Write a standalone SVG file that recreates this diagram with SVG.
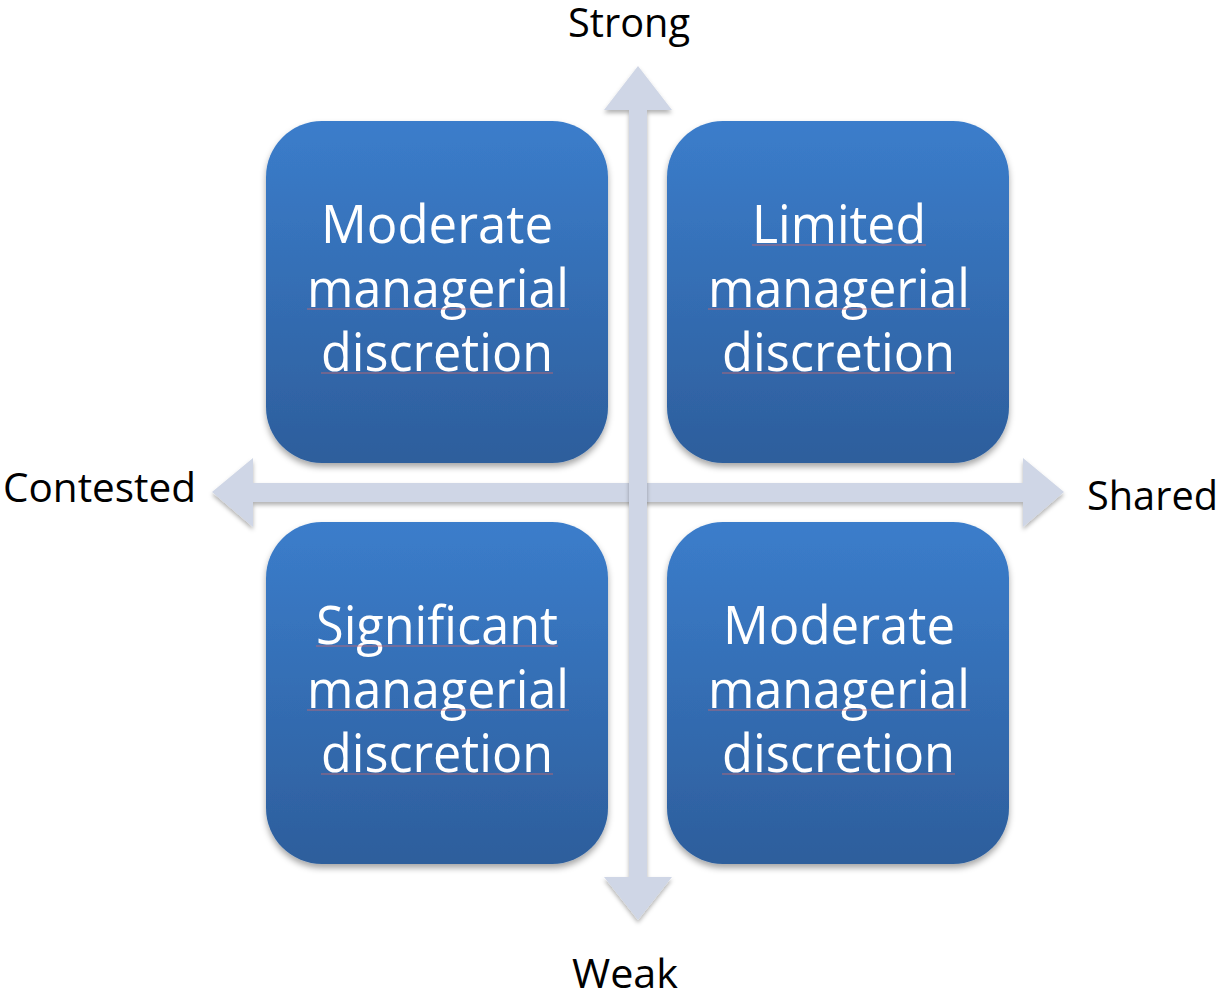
<svg xmlns="http://www.w3.org/2000/svg" width="1219" height="994" viewBox="0 0 1219 994">
<defs>
<linearGradient id="boxGrad" x1="0" y1="0" x2="0" y2="1">
<stop offset="0" stop-color="#3b7dcb"/>
<stop offset="1" stop-color="#2d5e9c"/>
</linearGradient>
<filter id="shadow" x="-10%" y="-10%" width="120%" height="125%">
<feDropShadow dx="0" dy="4" stdDeviation="3" flood-color="#000" flood-opacity="0.35"/>
</filter>
<filter id="ashadow" x="-10%" y="-10%" width="120%" height="120%">
<feDropShadow dx="0" dy="3" stdDeviation="2" flood-color="#000" flood-opacity="0.3"/>
</filter>
</defs>
<style>
.box{fill:url(#boxGrad);filter:url(#shadow);}
.t{font-family:"Open Sans","Liberation Sans",sans-serif;font-size:53px;fill:#ffffff;}
.lbl{font-family:"Open Sans","Liberation Sans",sans-serif;font-size:40px;fill:#000000;}
.arrow{fill:#cfd6e6;filter:url(#ashadow);}
.sq{stroke:#e06666;stroke-width:1.2;stroke-opacity:0.7;fill:none;}
</style>
<rect width="1219" height="994" fill="#ffffff"/>
<g id="connectors">
<polygon class="arrow" points="212,492 253,458 253,483 1023,483 1023,458 1064,492 1023,527 1023,502 253,502 253,527"/>
<polygon class="arrow" points="638,66 672,110 647,110 647,877 672,877 638,920 604,877 629,877 629,110 604,110"/>
</g>
<g id="box-tl">
<rect class="box" x="266" y="121" width="342" height="342" rx="56"/>
<text class="t" x="321" y="243" textLength="232" lengthAdjust="spacingAndGlyphs">Moderate</text>
<text class="t" x="307" y="307" textLength="262" lengthAdjust="spacingAndGlyphs">managerial</text>
<text class="t" x="321" y="371" textLength="232" lengthAdjust="spacingAndGlyphs">discretion</text>
<line class="sq" x1="307" y1="309" x2="569" y2="309"/>
<line class="sq" x1="321" y1="373" x2="553" y2="373"/>
</g>
<g id="box-tr">
<rect class="box" x="667" y="121" width="342" height="342" rx="56"/>
<text class="t" x="752" y="243" textLength="174" lengthAdjust="spacingAndGlyphs">Limited</text>
<text class="t" x="708" y="307" textLength="262" lengthAdjust="spacingAndGlyphs">managerial</text>
<text class="t" x="722" y="371" textLength="233" lengthAdjust="spacingAndGlyphs">discretion</text>
<line class="sq" x1="752" y1="245" x2="926" y2="245"/>
<line class="sq" x1="708" y1="309" x2="970" y2="309"/>
<line class="sq" x1="722" y1="373" x2="955" y2="373"/>
</g>
<g id="box-bl">
<rect class="box" x="266" y="522" width="342" height="342" rx="56"/>
<text class="t" x="316" y="644" textLength="242" lengthAdjust="spacingAndGlyphs">Significant</text>
<text class="t" x="307" y="708" textLength="262" lengthAdjust="spacingAndGlyphs">managerial</text>
<text class="t" x="321" y="772" textLength="232" lengthAdjust="spacingAndGlyphs">discretion</text>
<line class="sq" x1="316" y1="646" x2="558" y2="646"/>
<line class="sq" x1="307" y1="710" x2="569" y2="710"/>
<line class="sq" x1="321" y1="774" x2="553" y2="774"/>
</g>
<g id="box-br">
<rect class="box" x="667" y="522" width="342" height="342" rx="56"/>
<text class="t" x="723" y="644" textLength="232" lengthAdjust="spacingAndGlyphs">Moderate</text>
<text class="t" x="708" y="708" textLength="262" lengthAdjust="spacingAndGlyphs">managerial</text>
<text class="t" x="722" y="772" textLength="233" lengthAdjust="spacingAndGlyphs">discretion</text>
<line class="sq" x1="708" y1="710" x2="970" y2="710"/>
<line class="sq" x1="722" y1="774" x2="955" y2="774"/>
</g>
<g id="labels">
<text class="lbl" x="568" y="37" textLength="122" lengthAdjust="spacingAndGlyphs">Strong</text>
<text class="lbl" x="572" y="988" textLength="106" lengthAdjust="spacingAndGlyphs">Weak</text>
<text class="lbl" x="3" y="502" textLength="193" lengthAdjust="spacingAndGlyphs">Contested</text>
<text class="lbl" x="1087" y="510" textLength="131" lengthAdjust="spacingAndGlyphs">Shared</text>
</g>
</svg>
